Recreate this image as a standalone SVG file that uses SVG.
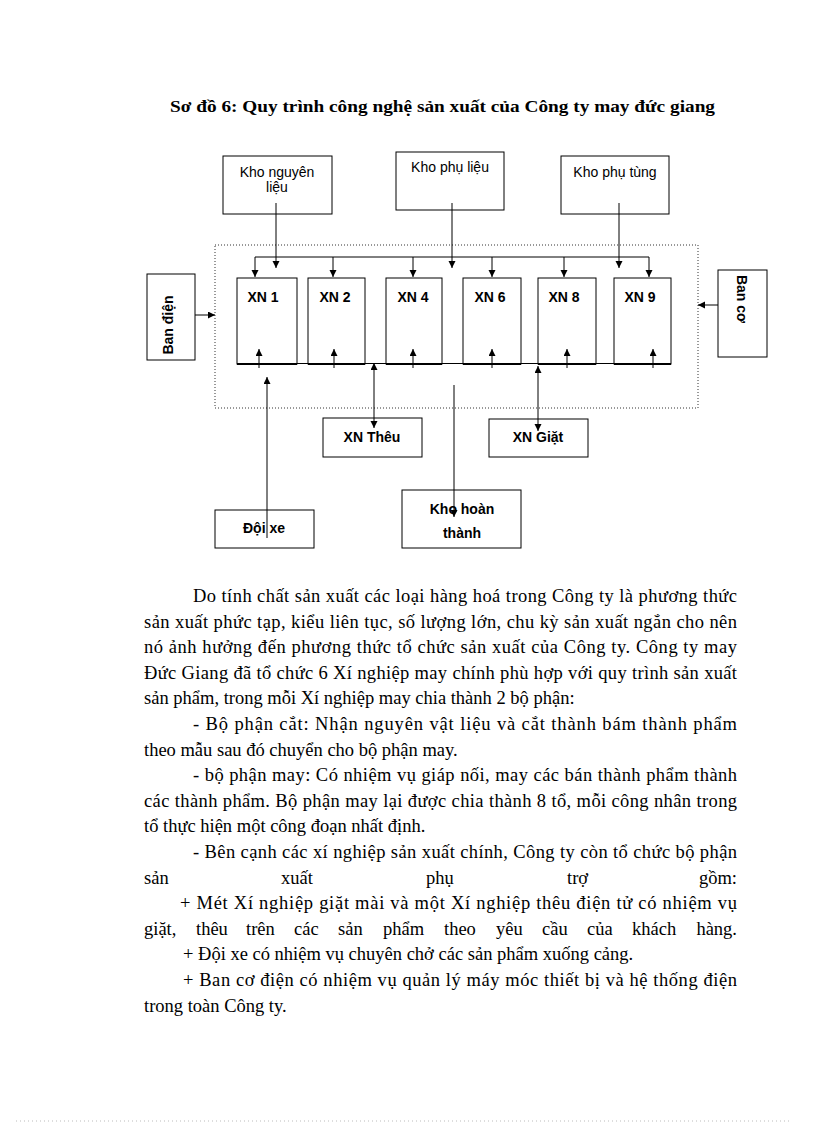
<svg xmlns="http://www.w3.org/2000/svg" width="816" height="1123" viewBox="0 0 816 1123">
<style>
.box{fill:#fff;stroke:#000;stroke-width:1}
.bot{stroke:#000;stroke-width:2}
.lbl{font-family:"Liberation Sans",Arial,sans-serif;font-size:14px;fill:#000}
.b{font-weight:bold}
.c{text-anchor:middle}
.body{font-family:"Liberation Serif","Times New Roman",serif;font-size:18.5px;fill:#000}
.title{font-family:"Liberation Serif","Times New Roman",serif;font-size:17.33px;font-weight:bold;fill:#000}
.conn line{stroke:#000;stroke-width:1;fill:none}
.arr{marker-end:url(#ah)}
.dbl{marker-start:url(#ah);marker-end:url(#ah)}
.e{text-anchor:end}
</style>
<defs>
<marker id="ah" markerUnits="userSpaceOnUse" markerWidth="8" markerHeight="8" refX="7" refY="3.5" orient="auto-start-reverse">
<path d="M0,0 L7,3.5 L0,7 z" fill="#000"/>
</marker>
</defs>
<rect width="816" height="1123" fill="#fff"/>
<text class="title" x="170" y="112" textLength="545" lengthAdjust="spacingAndGlyphs">Sơ đồ 6: Quy trình công nghệ sản xuất của Công ty may đức giang</text>

<rect id="frame" x="215" y="245" width="483" height="163" fill="none" stroke="#333" stroke-width="1" stroke-dasharray="1 2"/>

<g id="kho-nguyen-lieu"><rect class="box" x="223" y="156" width="109" height="58"/>
<text class="lbl c" x="277" y="177">Kho nguyên</text><text class="lbl c" x="277" y="192">liệu</text></g>
<g id="kho-phu-lieu"><rect class="box" x="396" y="152" width="108" height="58"/>
<text class="lbl c" x="450" y="172">Kho phụ liệu</text></g>
<g id="kho-phu-tung"><rect class="box" x="561" y="156" width="108" height="58"/>
<text class="lbl c" x="615" y="177">Kho phụ tùng</text></g>

<g id="ban-dien"><rect class="box" x="147" y="274" width="48" height="86"/>
<text class="lbl b c" transform="translate(173,325) rotate(-90)">Ban điện</text></g>
<g id="ban-co"><rect class="box" x="718" y="270" width="49" height="87"/>
<text class="lbl b c" transform="translate(737,299) rotate(90)">Ban cơ</text></g>

<line x1="237" y1="363.5" x2="671" y2="363.5" stroke="#000" stroke-width="1"/>
<g id="xn1"><rect class="box" x="237" y="278" width="60" height="86"/><line class="bot" x1="237" y1="364" x2="297" y2="364"/><text class="lbl b c" x="263" y="302">XN 1</text></g>
<g id="xn2"><rect class="box" x="308" y="278" width="57" height="86"/><line class="bot" x1="308" y1="364" x2="365" y2="364"/><text class="lbl b c" x="335" y="302">XN 2</text></g>
<g id="xn4"><rect class="box" x="386" y="278" width="56" height="86"/><line class="bot" x1="386" y1="364" x2="442" y2="364"/><text class="lbl b c" x="413" y="302">XN 4</text></g>
<g id="xn6"><rect class="box" x="463" y="278" width="58" height="86"/><line class="bot" x1="463" y1="364" x2="521" y2="364"/><text class="lbl b c" x="490" y="302">XN 6</text></g>
<g id="xn8"><rect class="box" x="538" y="278" width="58" height="86"/><line class="bot" x1="538" y1="364" x2="596" y2="364"/><text class="lbl b c" x="564" y="302">XN 8</text></g>
<g id="xn9"><rect class="box" x="614" y="278" width="57" height="86"/><line class="bot" x1="614" y1="364" x2="671" y2="364"/><text class="lbl b c" x="640" y="302">XN 9</text></g>

<g id="xn-theu"><rect class="box" x="323" y="418" width="99" height="39"/><text class="lbl b c" x="372" y="442">XN Thêu</text></g>
<g id="xn-giat"><rect class="box" x="489" y="419" width="99" height="38"/><text class="lbl b c" x="538" y="442">XN Giặt</text></g>
<g id="doi-xe"><rect class="box" x="215" y="510" width="99" height="38"/><text class="lbl b c" x="264" y="533">Đội xe</text></g>
<g id="kho-hoan-thanh"><rect class="box" x="402" y="490" width="119" height="58"/><text class="lbl b c" x="462" y="514">Kho hoàn</text><text class="lbl b c" x="462" y="538">thành</text></g>

<g id="connectors" class="conn">
<line class="arr" x1="276" y1="203" x2="276" y2="268"/>
<line class="arr" x1="452" y1="203" x2="452" y2="268"/>
<line class="arr" x1="619" y1="203" x2="619" y2="268"/>
<line x1="255" y1="257" x2="649" y2="257"/>
<line class="arr" x1="255" y1="257" x2="255" y2="277"/>
<line class="arr" x1="333" y1="257" x2="333" y2="277"/>
<line class="arr" x1="413" y1="257" x2="413" y2="277"/>
<line class="arr" x1="492" y1="257" x2="492" y2="277"/>
<line class="arr" x1="564" y1="257" x2="564" y2="277"/>
<line class="arr" x1="649" y1="257" x2="649" y2="277"/>
<line class="arr" x1="259" y1="368" x2="259" y2="349"/>
<line class="arr" x1="334" y1="368" x2="334" y2="349"/>
<line class="arr" x1="413" y1="368" x2="413" y2="349"/>
<line class="arr" x1="492" y1="368" x2="492" y2="349"/>
<line class="arr" x1="567" y1="368" x2="567" y2="349"/>
<line class="arr" x1="653" y1="368" x2="653" y2="349"/>
<line class="arr" x1="195" y1="315" x2="215" y2="315"/>
<line class="arr" x1="718" y1="305" x2="698" y2="305"/>
<line class="arr" x1="267" y1="538" x2="267" y2="377"/>
<line class="dbl" x1="374" y1="363" x2="374" y2="428"/>
<line class="dbl" x1="538" y1="366" x2="538" y2="431"/>
<line class="arr" x1="454" y1="385" x2="454" y2="517"/>
</g>

<g id="body-text" class="body">
<text x="193" y="602" textLength="544" lengthAdjust="spacing">Do tính chất sản xuất các loại hàng hoá trong Công ty là phương thức</text>
<text x="144" y="627.6" textLength="593" lengthAdjust="spacing">sản xuất phức tạp, kiểu liên tục, số lượng lớn, chu kỳ sản xuất ngắn cho nên</text>
<text x="144" y="653.2" textLength="593" lengthAdjust="spacing">nó ảnh hưởng đến phương thức tổ chức sản xuất của Công ty. Công ty may</text>
<text x="144" y="678.8" textLength="593" lengthAdjust="spacing">Đức Giang đã tổ chức 6 Xí nghiệp may chính phù hợp với quy trình sản xuất</text>
<text x="144" y="704.4">sản phẩm, trong mỗi Xí nghiệp may chia thành 2 bộ phận:</text>
<text x="193" y="730" textLength="544" lengthAdjust="spacing">- Bộ phận cắt: Nhận nguyên vật liệu và cắt thành bám thành phẩm</text>
<text x="144" y="755.6">theo mẫu sau đó chuyển cho bộ phận may.</text>
<text x="193" y="781.2" textLength="544" lengthAdjust="spacing">- bộ phận may: Có nhiệm vụ giáp nối, may các bán thành phẩm thành</text>
<text x="144" y="806.8" textLength="593" lengthAdjust="spacing">các thành phẩm. Bộ phận may lại được chia thành 8 tổ, mỗi công nhân trong</text>
<text x="144" y="832.4">tổ thực hiện một công đoạn nhất định.</text>
<text x="193" y="858" textLength="544" lengthAdjust="spacing">- Bên cạnh các xí nghiệp sản xuất chính, Công ty còn tổ chức bộ phận</text>
<text y="883.6"><tspan x="144">sản</tspan><tspan x="281">xuất</tspan><tspan x="426">phụ</tspan><tspan x="567">trợ</tspan><tspan x="737" class="e">gồm:</tspan></text>
<text x="180" y="909.2" textLength="557" lengthAdjust="spacing">+ Mét Xí nghiệp giặt mài và một Xí nghiệp thêu điện tử có nhiệm vụ</text>
<text y="934.8"><tspan x="144">giặt,</tspan><tspan x="196">thêu</tspan><tspan x="246">trên</tspan><tspan x="294">các</tspan><tspan x="338">sản</tspan><tspan x="383">phẩm</tspan><tspan x="444">theo</tspan><tspan x="496">yêu</tspan><tspan x="542">cầu</tspan><tspan x="587">của</tspan><tspan x="632">khách</tspan><tspan x="737" class="e">hàng.</tspan></text>
<text x="183" y="960.4">+ Đội xe có nhiệm vụ chuyên chở các sản phẩm xuống cảng.</text>
<text x="183" y="986" textLength="554" lengthAdjust="spacing">+ Ban cơ điện có nhiệm vụ quản lý máy móc thiết bị và hệ thống điện</text>
<text x="144" y="1011.6">trong toàn Công ty.</text>
</g>

<line x1="16" y1="1121" x2="790" y2="1121" stroke="#bbb" stroke-width="1" stroke-dasharray="1 3"/>
</svg>
